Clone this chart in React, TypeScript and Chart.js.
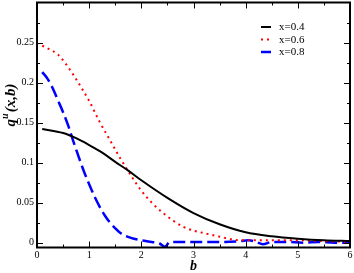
import React, { useEffect, useRef } from 'react';
import { Chart, registerables } from 'chart.js';

Chart.register(...registerables);

// x = 0.4 (black, solid)
const bBlack = [0.1, 0.5, 0.75, 1.0, 1.25, 1.5, 1.75, 2.0, 2.5, 3.0, 3.5, 4.0, 4.5, 5.0, 5.5, 6.0];
const qBlack = [0.142, 0.137, 0.1305, 0.122, 0.1125, 0.101, 0.090, 0.078, 0.056, 0.037, 0.023, 0.013, 0.008, 0.005, 0.003, 0.002];

// x = 0.6 (red, dotted)
const bRed = [0.1, 0.2, 0.4, 0.6, 0.8, 1.0, 1.2, 1.4, 1.6, 1.8, 2.0, 2.2, 2.4, 2.6, 2.8, 3.0, 3.2, 3.4, 3.6, 3.8, 4.0, 4.5, 5.0, 5.5, 6.0];
const qRed = [0.246, 0.243, 0.235, 0.219, 0.199, 0.177, 0.151, 0.128, 0.105, 0.084, 0.065, 0.050, 0.038, 0.028, 0.020, 0.015, 0.012, 0.009, 0.006, 0.0035, 0.003, 0.003, 0.003, 0.002, 0.001];

// x = 0.8 (blue, dashed)
const bBlue = [0.1, 0.2, 0.3, 0.4, 0.5, 0.6, 0.7, 0.8, 0.9, 1.0, 1.1, 1.2, 1.3, 1.4, 1.5, 1.6, 1.8, 2.0, 2.2, 2.35, 2.45, 2.55, 2.8, 3.2, 3.6, 3.9, 4.05, 4.2, 4.33, 4.5, 4.8, 5.1, 5.4, 5.7, 6.0];
const qBlue = [0.213, 0.205, 0.193, 0.178, 0.163, 0.146, 0.126, 0.107, 0.089, 0.073, 0.058, 0.045, 0.034, 0.025, 0.018, 0.012, 0.006, 0.003, 0.001, -0.001, -0.005, 0.001, 0.001, 0.001, 0.001, 0.002, 0.003, 0.001, -0.002, 0.001, 0.001, 0.0, 0.001, 0.0, 0.0];

const seriesLabels = ['x=0.4', 'x=0.6', 'x=0.8'];
const xTickValues = [0, 1, 2, 3, 4, 5, 6];
const yTickValues = [0, 0.05, 0.1, 0.15, 0.2, 0.25];
const xTitle = 'b';
const yTitleMain = 'q';
const yTitleSup = 'u';
const yTitleRest = '(x,b)';

const SERIF = '"Liberation Serif", "Times New Roman", serif';

const toPoints = (xs: number[], ys: number[]) => xs.map((x, i) => ({ x, y: ys[i] }));

const framePlugin = {
  id: 'frameTicks',
  afterDatasetsDraw(chart: any) {
    const { ctx, chartArea: a, scales } = chart;
    const xs = scales.x;
    const ys = scales.y;
    ctx.save();
    ctx.strokeStyle = '#000';
    ctx.lineWidth = 1;
    ctx.beginPath();
    for (let i = 0; i <= 12; i++) {
      const v = i * 0.5;
      const px = Math.round(xs.getPixelForValue(v)) + 0.5;
      const len = i % 2 === 0 ? 6 : 3;
      ctx.moveTo(px, a.bottom);
      ctx.lineTo(px, a.bottom - len);
      ctx.moveTo(px, a.top);
      ctx.lineTo(px, a.top + len);
    }
    for (let i = 0; i <= 11; i++) {
      const v = i * 0.025;
      const py = Math.round(ys.getPixelForValue(v)) + 0.5;
      const len = i % 2 === 0 ? 6 : 3;
      ctx.moveTo(a.left, py);
      ctx.lineTo(a.left + len, py);
      ctx.moveTo(a.right, py);
      ctx.lineTo(a.right - len, py);
    }
    ctx.stroke();
    ctx.lineWidth = 2;
    ctx.strokeRect(a.left, a.top, a.right - a.left, a.bottom - a.top);
    ctx.restore();
  },
  afterDraw(chart: any) {
    const { ctx, chartArea: a } = chart;
    ctx.save();
    // legend
    const lx0 = 261;
    const lx1 = 271;
    const tx = 279;
    const ly0 = 27;
    const step = 12.5;
    chart.data.datasets.forEach((ds: any, i: number) => {
      const y = ly0 + i * step;
      ctx.save();
      ctx.strokeStyle = ds.borderColor;
      ctx.lineWidth = ds.borderWidth;
      ctx.setLineDash(ds.borderDash || []);
      ctx.beginPath();
      ctx.moveTo(lx0, y);
      ctx.lineTo(lx1, y);
      ctx.stroke();
      ctx.restore();
      ctx.fillStyle = '#000';
      ctx.font = `11px ${SERIF}`;
      ctx.textAlign = 'left';
      ctx.textBaseline = 'middle';
      ctx.fillText(ds.label, tx, y + 0.5);
    });
    // x title
    ctx.fillStyle = '#000';
    ctx.font = `italic bold 14px ${SERIF}`;
    ctx.textAlign = 'center';
    ctx.textBaseline = 'alphabetic';
    ctx.fillText(xTitle, (a.left + a.right) / 2, 270);
    // y title (rotated)
    const mainFont = `italic bold 15px ${SERIF}`;
    const supFont = `italic bold 10px ${SERIF}`;
    ctx.font = mainFont;
    const wq = ctx.measureText(yTitleMain).width;
    const wr = ctx.measureText(yTitleRest).width;
    ctx.font = supFont;
    const wu = ctx.measureText(yTitleSup).width;
    const total = wq + wu + 1 + wr;
    ctx.translate(15, 105);
    ctx.rotate(-Math.PI / 2);
    ctx.textAlign = 'left';
    let x = -total / 2;
    ctx.font = mainFont;
    ctx.fillText(yTitleMain, x, 0);
    x += wq;
    ctx.font = supFont;
    ctx.fillText(yTitleSup, x, -7);
    x += wu + 1;
    ctx.font = mainFont;
    ctx.fillText(yTitleRest, x, 0);
    ctx.restore();
  },
};

export default function App() {
  const ref = useRef<HTMLCanvasElement | null>(null);
  useEffect(() => {
    document.body.style.margin = '0';
    const canvas = ref.current;
    if (!canvas) return;
    const chart = new Chart(canvas, {
      type: 'line',
      data: {
        datasets: [
          {
            label: seriesLabels[0],
            data: toPoints(bBlack, qBlack),
            borderColor: '#000000',
            borderWidth: 2,
            pointRadius: 0,
            cubicInterpolationMode: 'monotone',
            fill: false,
          },
          {
            label: seriesLabels[1],
            data: toPoints(bRed, qRed),
            borderColor: '#ff0000',
            borderWidth: 2,
            borderDash: [2, 4],
            pointRadius: 0,
            cubicInterpolationMode: 'monotone',
            fill: false,
          },
          {
            label: seriesLabels[2],
            data: toPoints(bBlue, qBlue),
            borderColor: '#0000ff',
            borderWidth: 2.5,
            borderDash: [12, 5],
            pointRadius: 0,
            cubicInterpolationMode: 'monotone',
            fill: false,
          },
        ],
      },
      options: {
        responsive: false,
        animation: false,
        devicePixelRatio: 1,
        layout: { padding: { top: 2.5, right: 4, left: 0, bottom: 0 } },
        plugins: { legend: { display: false }, tooltip: { enabled: false } },
        scales: {
          x: {
            type: 'linear',
            min: 0,
            max: 6,
            grid: { display: false, drawTicks: false },
            border: { display: false },
            afterBuildTicks: (s: any) => {
              s.ticks = xTickValues.map((v) => ({ value: v }));
            },
            afterFit: (s: any) => {
              s.height = 25.5;
              s.paddingLeft = 0;
              s.paddingRight = 0;
            },
            ticks: {
              color: '#000',
              padding: 2,
              maxRotation: 0,
              font: { family: SERIF, size: 10 },
              callback: (v: any) => String(v),
            },
          },
          y: {
            type: 'linear',
            min: -0.006,
            max: 0.3,
            grid: { display: false, drawTicks: false },
            border: { display: false },
            afterBuildTicks: (s: any) => {
              s.ticks = yTickValues.map((v) => ({ value: v }));
            },
            afterFit: (s: any) => {
              s.width = 37;
              s.paddingTop = 0;
              s.paddingBottom = 0;
            },
            ticks: {
              color: '#000',
              padding: 3,
              font: { family: SERIF, size: 10 },
              callback: (v: any) => String(+Number(v).toFixed(2)),
            },
          },
        },
      },
      plugins: [framePlugin],
    } as any);
    return () => chart.destroy();
  }, []);
  return (
    <div style={{ width: 354, height: 273 }}>
      <canvas ref={ref} width={354} height={273} style={{ display: 'block' }} />
    </div>
  );
}
